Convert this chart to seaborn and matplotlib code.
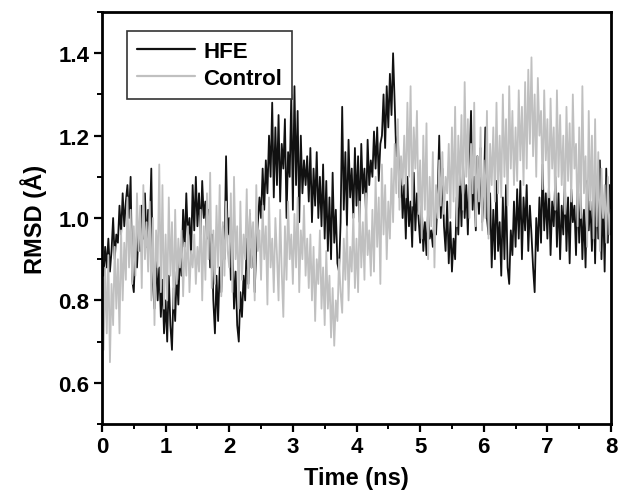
import numpy as np
import pandas as pd
import matplotlib
matplotlib.use("Agg")
import matplotlib.pyplot as plt
from matplotlib.ticker import MultipleLocator
import seaborn as sns

# 时间轴: 0-8 ns, 每 0.025 ns 一个点
time_ns = np.round(np.arange(0, 321) * 0.025, 3)

# RMSD 数据
rmsd_hfe = [
    0.90, 0.86, 0.93, 0.88, 0.95, 0.87, 0.92, 1.00, 0.90, 0.96,
    0.94, 1.03, 0.96, 1.06, 0.98, 1.04, 1.08, 1.00, 1.10, 0.85,
    0.82, 0.94, 0.88, 0.97, 0.92, 1.03, 0.95, 1.06, 0.93, 1.02,
    0.97, 1.12, 0.84, 0.78, 0.91, 0.80, 0.88, 0.76, 0.85, 0.72,
    0.80, 0.70, 0.86, 0.74, 0.68, 0.83, 0.75, 0.87, 0.79, 0.92,
    0.86, 1.02, 0.93, 1.06, 0.95, 1.00, 0.91, 1.08, 0.97, 1.10,
    0.98, 1.06, 0.96, 1.09, 1.00, 1.04, 0.95, 1.02, 0.88, 0.96,
    0.80, 0.72, 0.86, 0.75, 0.88, 0.82, 0.98, 0.90, 1.15, 0.96,
    1.00, 0.85, 0.95, 0.78, 0.87, 0.74, 0.70, 0.82, 0.76, 0.86,
    0.80, 0.95, 0.84, 1.01, 0.88, 0.97, 0.82, 0.93, 0.99, 1.05,
    1.00, 1.12, 1.02, 1.14, 1.06, 1.20, 1.10, 1.28, 1.05, 1.22,
    1.08, 1.25, 1.04, 1.18, 1.12, 1.24, 1.00, 1.16, 1.10, 1.30,
    1.02, 1.32, 1.08, 1.26, 0.99, 1.20, 1.06, 1.14, 1.08, 1.15,
    1.04, 1.17, 0.99, 1.12, 1.03, 1.16, 1.00, 1.10, 0.98, 1.13,
    0.95, 1.09, 0.92, 1.05, 0.90, 1.11, 0.94, 1.02, 0.89, 0.87,
    0.99, 1.27, 1.02, 1.16, 0.98, 1.19, 1.05, 1.12, 1.00, 1.17,
    1.03, 1.15, 0.99, 1.18, 1.06, 1.12, 1.01, 1.19, 1.08, 1.14,
    1.10, 1.21, 1.12, 1.22, 1.09, 1.18, 1.20, 1.30, 1.17, 1.32,
    1.22, 1.35, 1.25, 1.40, 1.28, 1.15, 1.20, 1.05, 1.12, 1.00,
    1.08, 0.95, 1.10, 0.98, 1.04, 0.93, 1.11, 0.97, 1.06, 1.00,
    0.94, 1.03, 0.92, 0.99, 0.91, 1.02, 0.95, 0.97, 0.93, 1.01,
    0.96, 1.05, 1.20, 1.00, 1.12, 0.98, 0.92, 1.04, 0.89, 0.99,
    0.87, 0.95, 0.90, 1.05, 0.96, 1.10, 0.98, 1.13, 1.00, 1.08,
    0.96, 1.12, 1.26, 1.02, 1.10, 0.97, 1.15, 1.01, 1.17, 0.99,
    1.05, 1.22, 1.00, 0.96, 1.06, 0.88, 1.02, 0.90, 1.09, 0.92,
    0.99, 0.86, 1.05, 0.90, 1.08, 0.88, 0.84, 0.97, 0.91, 1.04,
    0.93, 1.07, 0.95, 1.09, 0.90, 1.05, 0.97, 1.08, 0.92, 1.03,
    0.96, 0.88, 0.82, 1.00, 0.92, 1.05, 0.94, 1.13, 0.97, 1.06,
    0.95, 1.08, 0.91, 1.04, 0.98, 1.10, 0.93, 1.06, 0.90, 1.03,
    0.96, 1.09, 0.92, 1.05, 0.89, 1.07, 0.99, 1.03, 0.91, 1.08,
    0.94, 1.06, 0.90, 1.02, 0.88, 1.09, 0.97, 1.04, 0.92, 1.07,
    0.89, 1.10, 0.95, 1.14, 0.90, 1.05, 0.87, 1.12, 0.94, 1.08,
    0.96,
]

rmsd_control = [
    0.80, 0.68, 0.88, 0.72, 0.91, 0.65, 0.84, 0.74, 0.93, 0.78,
    0.90, 0.72, 0.97, 0.80, 0.94, 0.85, 1.05, 0.88, 1.02, 0.84,
    0.98, 0.86, 1.06, 0.92, 1.03, 0.83, 1.08, 0.90, 0.99, 0.87,
    1.04, 0.80, 1.00, 0.74, 0.97, 0.88, 1.13, 0.82, 1.08, 0.78,
    0.96, 0.80, 1.05, 0.86, 0.99, 0.78, 1.02, 0.84, 0.95, 0.88,
    0.97, 0.81, 0.94, 0.86, 0.98, 0.82, 0.92, 0.88, 0.96, 0.84,
    0.93, 0.87, 1.02, 0.80, 0.98, 0.85, 1.06, 0.90, 1.11, 0.83,
    0.97, 0.84, 1.03, 0.88, 1.08, 0.81, 0.99, 0.86, 1.04, 0.92,
    0.88, 1.06, 0.82, 1.10, 0.90, 0.98, 0.78, 1.04, 0.85, 0.96,
    0.90, 1.07, 0.83, 1.02, 0.88, 0.99, 0.80, 1.08, 0.92, 0.97,
    0.85, 1.03, 0.90, 0.98, 0.79, 1.05, 0.88, 0.95, 0.82, 1.00,
    0.91, 0.80, 1.02, 0.87, 0.76, 0.98, 0.85, 1.04, 0.90, 0.96,
    0.84, 1.01, 0.88, 1.05, 0.82, 0.97, 0.90, 1.03, 0.86, 0.95,
    0.83, 0.96, 0.80, 0.93, 0.75, 0.90, 0.84, 0.97, 0.78, 0.88,
    0.74, 0.92, 0.78, 0.86, 0.71, 0.83, 0.69, 0.80, 0.75, 0.90,
    0.82, 0.77, 0.95, 0.85, 0.98, 0.80, 0.93, 0.87, 1.01, 0.83,
    0.95, 0.82, 1.04, 0.88, 0.99, 0.85, 1.06, 0.91, 0.97, 0.86,
    1.02, 0.87, 1.10, 0.93, 1.05, 0.84, 1.13, 0.96, 1.08, 0.90,
    1.04, 0.95, 1.12, 0.99, 1.18, 1.06, 1.24, 1.02, 1.15, 1.08,
    1.20, 1.05, 1.28, 1.10, 1.32, 1.03, 1.22, 1.12, 1.26, 1.01,
    1.14, 0.95, 1.20, 1.02, 1.23, 0.90, 1.10, 0.98, 1.16, 0.88,
    1.08, 1.00, 1.14, 1.03, 1.16, 1.01, 1.10, 1.06, 1.18, 1.00,
    1.22, 1.04, 1.27, 0.98, 1.20, 1.08, 1.25, 1.02, 1.33, 1.10,
    1.24, 1.00, 1.18, 1.06, 1.28, 0.98, 1.15, 1.04, 1.22, 0.97,
    1.14, 1.00, 1.26, 0.95, 1.18, 1.08, 1.22, 1.04, 1.28, 1.06,
    1.20, 1.05, 1.30, 1.10, 1.24, 1.03, 1.32, 1.12, 1.26, 1.08,
    1.22, 1.09, 1.31, 1.14, 1.27, 1.08, 1.33, 1.12, 1.36, 1.18,
    1.39, 1.15, 1.30, 1.10, 1.34, 1.20, 1.26, 1.07, 1.31, 1.14,
    1.24, 1.05, 1.29, 1.12, 1.22, 1.02, 1.31, 1.10, 1.25, 1.08,
    1.20, 1.01, 1.27, 1.09, 1.23, 1.04, 1.30, 1.12, 1.18, 0.98,
    1.22, 1.00, 1.32, 1.06, 1.15, 0.93, 1.26, 1.02, 1.20, 0.95,
    1.24, 0.98, 1.16, 0.92, 1.12, 1.00, 1.08, 0.94, 1.10, 0.96,
    1.02,
]

series_names = ["HFE", "Control"]
series_colors = {"HFE": "#111111", "Control": "#c0c0c0"}

df = pd.concat([
    pd.DataFrame({"Time": time_ns, "RMSD": rmsd_hfe, "System": "HFE"}),
    pd.DataFrame({"Time": time_ns, "RMSD": rmsd_control, "System": "Control"}),
])

sns.set_style("ticks")
plt.rcParams["font.family"] = ["Liberation Sans", "DejaVu Sans"]
plt.rcParams["font.weight"] = "bold"
plt.rcParams["text.color"] = "black"
plt.rcParams["axes.labelcolor"] = "black"
plt.rcParams["xtick.color"] = "black"
plt.rcParams["ytick.color"] = "black"

fig = plt.figure(figsize=(6.2, 5.02), dpi=100)
ax = fig.add_axes([0.1645, 0.1534, 0.821, 0.8206])

sns.lineplot(data=df, x="Time", y="RMSD", hue="System", hue_order=series_names,
             palette=series_colors, linewidth=1.3, estimator=None, sort=False, ax=ax)

ax.set_xlim(0, 8)
ax.set_ylim(0.5, 1.5)
ax.xaxis.set_major_locator(MultipleLocator(1))
ax.xaxis.set_minor_locator(MultipleLocator(0.5))
ax.yaxis.set_minor_locator(MultipleLocator(0.1))
ax.set_yticks([0.6, 0.8, 1.0, 1.2, 1.4])
ax.set_yticklabels(["0.6", "0.8", "1.0", "1.2", "1.4"])

ax.tick_params(axis="both", which="major", direction="out", length=6, width=1.6,
               labelsize=16, pad=3, colors="black")
ax.tick_params(axis="both", which="minor", direction="out", length=3.5, width=1.4,
               colors="black")
for lab in ax.get_xticklabels() + ax.get_yticklabels():
    lab.set_fontweight("bold")

for sp in ax.spines.values():
    sp.set_linewidth(2.0)
    sp.set_color("black")

ax.set_xlabel("Time (ns)", fontsize=17, fontweight="bold", labelpad=6, color="black")
ax.set_ylabel("RMSD (Å)", fontsize=17, fontweight="bold", labelpad=8, color="black")

handles, labels = ax.get_legend_handles_labels()
for h in handles:
    h.set_linewidth(1.6)
leg = ax.legend(handles, labels, loc="upper left", bbox_to_anchor=(0.049, 0.954),
                borderaxespad=0, frameon=True, fancybox=False, framealpha=1,
                edgecolor="#333333", prop={"size": 16, "weight": "bold"},
                handlelength=2.6, handletextpad=0.4, labelspacing=0.25,
                borderpad=0.45)
leg.get_frame().set_linewidth(1.2)
for t in leg.get_texts():
    t.set_color("black")

fig.savefig("out.png", dpi=100)
